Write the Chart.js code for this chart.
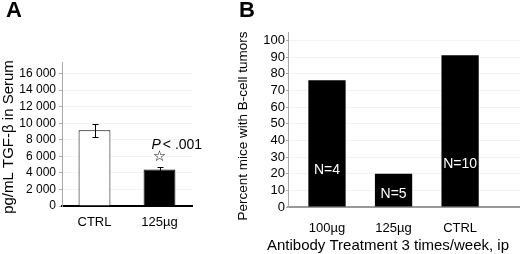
<!DOCTYPE html>
<html>
<head>
<meta charset="utf-8">
<script src="https://cdn.jsdelivr.net/npm/chart.js@4.4.0/dist/chart.umd.min.js"></script>
<style>
  body { margin: 0; background: #fff; }
  #wrap { position: relative; width: 520px; height: 254px; }
  #chartA { position: absolute; left: 0; top: 0; }
  #chartB { position: absolute; left: 235px; top: 0; }
</style>
</head>
<body>
<div id="wrap">
  <canvas id="chartA" width="235" height="254"></canvas>
  <canvas id="chartB" width="285" height="254"></canvas>
</div>
<script>
// Panel A - serum TGF-beta
const groupsA = ['CTRL', '125µg'];
const tgfMeans = [9150, 4400];
const tgfErrors = [800, 350];
const tickValuesA = [0, 2000, 4000, 6000, 8000, 10000, 12000, 14000, 16000];

// Panel B - tumor incidence
const groupsB = ['100µg', '125µg', 'CTRL'];
const tumorPercent = [76, 20, 91];
const groupN = ['N=4', 'N=5', 'N=10'];
const nLabelLevel = [22, 8, 26];
const tickValuesB = [0, 10, 20, 30, 40, 50, 60, 70, 80, 90, 100];

const FONT = "'Liberation Sans', Arial, sans-serif";

// free text (panel letters, axis titles)
const textPlugin = {
    id: 'extraText',
    afterDraw(chart, args, opts) {
        const ctx = chart.ctx;
        (opts.items || []).forEach(t => {
            ctx.save();
            ctx.font = t.font;
            ctx.fillStyle = '#000';
            ctx.textAlign = 'center';
            ctx.textBaseline = 'middle';
            ctx.translate(t.x, t.y);
            if (t.rotate) ctx.rotate(t.rotate);
            ctx.fillText(t.text, 0, 0);
            ctx.restore();
        });
    }
};

// error bars + significance mark for panel A
const errorBars = {
    id: 'errorBars',
    afterDatasetsDraw(chart) {
        const ctx = chart.ctx;
        const y = chart.scales.y;
        const meta = chart.getDatasetMeta(0);
        ctx.save();
        ctx.strokeStyle = '#000';
        ctx.lineWidth = 1;
        meta.data.forEach((bar, i) => {
            const x = Math.round(bar.x) + 0.5;
            const top = Math.round(y.getPixelForValue(tgfMeans[i] + tgfErrors[i])) + 0.5;
            const bot = Math.round(y.getPixelForValue(tgfMeans[i] - tgfErrors[i])) + 0.5;
            ctx.beginPath();
            ctx.moveTo(x, top); ctx.lineTo(x, bot);
            ctx.moveTo(x - 3, top); ctx.lineTo(x + 3, top);
            ctx.moveTo(x - 3, bot); ctx.lineTo(x + 3, bot);
            ctx.stroke();
        });
        const bar = meta.data[1];
        const top = y.getPixelForValue(tgfMeans[1] + tgfErrors[1]);
        ctx.fillStyle = '#000';
        ctx.font = "15px 'DejaVu Sans'";
        ctx.textAlign = 'center';
        ctx.textBaseline = 'middle';
        ctx.fillText('☆', bar.x, top - 10);
        ctx.textAlign = 'left';
        ctx.textBaseline = 'alphabetic';
        ctx.font = 'italic 14px ' + FONT;
        const px = bar.x - 8;
        ctx.fillText('P', px, top - 18);
        const w = ctx.measureText('P').width;
        ctx.font = '14px ' + FONT;
        ctx.fillText('< .001', px + w + 2, top - 18);
        ctx.restore();
    }
};

// N= labels inside the bars of panel B
const nLabels = {
    id: 'nLabels',
    afterDatasetsDraw(chart) {
        const ctx = chart.ctx;
        const y = chart.scales.y;
        const meta = chart.getDatasetMeta(0);
        ctx.save();
        ctx.fillStyle = '#fff';
        ctx.font = '14px ' + FONT;
        ctx.textAlign = 'center';
        ctx.textBaseline = 'middle';
        meta.data.forEach((bar, i) => {
            ctx.fillText(groupN[i], bar.x, y.getPixelForValue(nLabelLevel[i]));
        });
        ctx.restore();
    }
};

const fmt = v => String(v).replace(/\B(?=(\d{3})+(?!\d))/g, ' ');

new Chart(document.getElementById('chartA'), {
    type: 'bar',
    data: {
        labels: groupsA,
        datasets: [{
            data: tgfMeans,
            backgroundColor: ['#fff', '#000'],
            borderColor: '#000',
            borderWidth: 1,
            barPercentage: 0.49,
            categoryPercentage: 1
        }]
    },
    options: {
        responsive: false,
        animation: false,
        layout: { padding: { top: 62, right: 43, left: 0, bottom: 0 } },
        plugins: {
            legend: { display: false },
            tooltip: { enabled: false },
            extraText: {
                items: [
                    { text: 'A', x: 14, y: 11, font: 'bold 22px ' + FONT },
                    { text: 'pg/mL TGF-β in Serum', x: 9, y: 137, rotate: -Math.PI / 2, font: '15px ' + FONT }
                ]
            }
        },
        scales: {
            x: {
                afterFit: s => { s.height = 48; },
                grid: { display: false },
                border: { color: '#000', width: 2 },
                ticks: { font: { family: FONT, size: 13 }, color: '#000', padding: 1 }
            },
            y: {
                min: 0,
                max: 17400,
                afterBuildTicks: s => { s.ticks = tickValuesA.map(v => ({ value: v })); },
                afterFit: s => { s.width = 62; },
                grid: { color: '#f3f3f3', tickColor: '#aaa', tickLength: 3 },
                border: { color: '#aaa', width: 1 },
                ticks: { autoSkip: false, font: { family: FONT, size: 12 }, color: '#000', padding: 3, callback: v => fmt(v) }
            }
        }
    },
    plugins: [textPlugin, errorBars]
});

new Chart(document.getElementById('chartB'), {
    type: 'bar',
    data: {
        datasets: [{
            data: tumorPercent.map((v, i) => ({ x: i + 1, y: v })),
            backgroundColor: '#000',
            borderWidth: 0,
            barPercentage: 0.56,
            categoryPercentage: 1
        }]
    },
    options: {
        responsive: false,
        animation: false,
        layout: { padding: { top: 32, right: 0, left: 0, bottom: 0 } },
        plugins: {
            legend: { display: false },
            tooltip: { enabled: false },
            extraText: {
                items: [
                    { text: 'B', x: 12, y: 11, font: 'bold 22px ' + FONT },
                    { text: 'Percent mice with B-cell tumors', x: 8, y: 126, rotate: -Math.PI / 2, font: '13.5px ' + FONT },
                    { text: 'Antibody Treatment 3 times/week, ip', x: 153, y: 246, font: '15px ' + FONT }
                ]
            }
        },
        scales: {
            x: {
                type: 'linear',
                min: 0.414,
                max: 3.9,
                offset: false,
                afterBuildTicks: s => { s.ticks = groupsB.map((g, i) => ({ value: i + 1 })); },
                afterFit: s => { s.height = 47; },
                grid: { display: false, offset: false },
                border: { color: '#999', width: 2 },
                ticks: { autoSkip: false, maxRotation: 0, font: { family: FONT, size: 13 }, color: '#000', padding: 6, callback: v => groupsB[v - 1] }
            },
            y: {
                min: 0,
                max: 105,
                afterBuildTicks: s => { s.ticks = tickValuesB.map(v => ({ value: v })); },
                afterFit: s => { s.width = 53; },
                grid: { color: '#f3f3f3', tickColor: '#aaa', tickLength: 2 },
                border: { color: '#aaa', width: 1 },
                ticks: { autoSkip: false, font: { family: FONT, size: 13 }, color: '#000', padding: 1 }
            }
        }
    },
    plugins: [textPlugin, nLabels]
});
</script>
</body>
</html>
